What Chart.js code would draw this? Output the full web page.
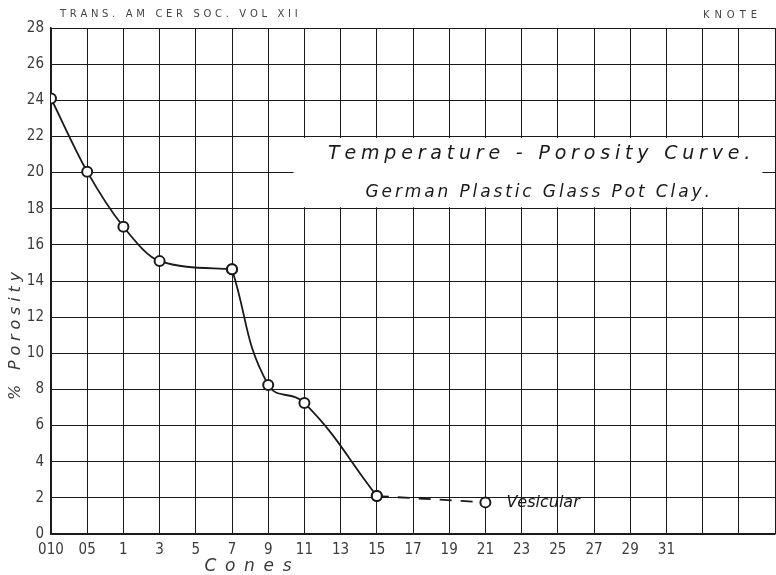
<!DOCTYPE html>
<html>
<head>
<meta charset="utf-8">
<script src="https://cdn.jsdelivr.net/npm/chart.js@4/dist/chart.umd.min.js"></script>
<style>
html,body{margin:0;padding:0;background:#fff;}
#wrap{width:776px;height:575px;position:relative;}
</style>
</head>
<body>
<div id="wrap"><canvas id="c"></canvas></div>
<script>
// Cone tick labels (index positions on the x axis); the last grid columns are unlabeled
const coneLabels = ['010','05','1','3','5','7','9','11','13','15','17','19','21','23','25','27','29','31','','',''];
// Fired curve, part 1 (steady decline to cone 7)
const cones1 = ['010','05','1','3','7'];
const porosity1 = [24.1, 20.05, 17.0, 15.1, 14.65];
// Fired curve, part 2 (sharp drop after cone 7)
const cones2 = ['7','9','11','15'];
const porosity2 = [14.65, 8.25, 7.25, 2.1];
// Dashed extension to vesicular state
const cones3 = ['15','21'];
const porosity3 = [2.1, 1.75];
// Y tick values
const yTicks = [0,2,4,6,8,10,12,14,16,18,20,22,24,26,28];

const toPts = (cs, vs) => cs.map((c,i)=>({x: coneLabels.indexOf(c), y: vs[i]}));

const INK = '#1a1a1a';
const TXT = '#3a3a3a';

function drawSpaced(ctx, text, cx, cy, font, target, color, align){
  ctx.save();
  ctx.font = font;
  ctx.fillStyle = color || INK;
  ctx.letterSpacing = '0px';
  const w = ctx.measureText(text).width;
  const n = text.length;
  const sp = n>1 ? Math.max(0,(target - w)/(n-1)) : 0;
  ctx.textBaseline = 'middle';
  ctx.textAlign = 'left';
  let x = align==='left' ? cx : cx - target/2;
  for (const ch of text){
    ctx.fillText(ch, x, cy);
    x += ctx.measureText(ch).width + sp;
  }
  ctx.restore();
}

const overlay = {
  id:'overlay',
  afterLayout(chart){
    // stretch plot to the right edge of the sheet
    const ca = chart.chartArea;
    ca.right = 775; ca.width = ca.right - ca.left;
    const x = chart.scales.x;
    x.right = 775; x.width = x.right - x.left;
    x.configure();
  },
  beforeDatasetsDraw(chart){
    const {ctx, scales:{x,y}} = chart;
    ctx.save();
    ctx.fillStyle = '#fff';
    const top = y.getPixelForValue(22)+1.5, bot = y.getPixelForValue(18)-1.5;
    const l = x.getPixelForValue(6.7), r = x.getPixelForValue(19.65);
    ctx.fillRect(l, top, r-l, bot-top);
    ctx.restore();
  },
  afterDraw(chart){
    const {ctx, scales:{x,y}} = chart;
    drawSpaced(ctx, 'TRANS. AM CER SOC. VOL XII', 60, 14, '10px "DejaVu Sans"', 237, '#444', 'left');
    drawSpaced(ctx, 'KNOTE', 703, 15, '10px "DejaVu Sans"', 54, '#444', 'left');
    drawSpaced(ctx, 'Temperature - Porosity Curve.', 538, 154, 'italic 19px "DejaVu Sans"', 420, INK);
    drawSpaced(ctx, 'German Plastic Glass Pot Clay.', 537, 193, 'italic 17px "DejaVu Sans"', 343, INK);
    drawSpaced(ctx, 'Cones', 248, 567, 'italic 17px "DejaVu Sans"', 87, TXT);
    const vx = x.getPixelForValue(coneLabels.indexOf('21')) + 21;
    const vy = y.getPixelForValue(porosity3[1]);
    drawSpaced(ctx, 'Vesicular', vx, vy, 'italic 16px "DejaVu Sans"', 72, INK, 'left');
    ctx.save();
    ctx.translate(16, 336);
    ctx.rotate(-Math.PI/2);
    drawSpaced(ctx, '% Porosity', 0, 0, 'italic 16px "DejaVu Sans"', 128, TXT);
    ctx.restore();
  }
};

const lineStyle = {
  borderColor: INK, borderWidth: 1.8,
  pointRadius: 5, pointBorderWidth: 2, pointBackgroundColor: '#fff', pointBorderColor: INK,
  fill: false
};

new Chart(document.getElementById('c'), {
  type: 'line',
  data: {
    datasets: [
      Object.assign({label:'part1', data: toPts(cones1, porosity1)}, lineStyle, {cubicInterpolationMode: 'monotone'}),
      Object.assign({label:'part2', data: toPts(cones2, porosity2)}, lineStyle, {tension: 0.45}),
      Object.assign({label:'vesicular', data: toPts(cones3, porosity3)}, lineStyle, {borderDash:[12,9], tension:0})
    ]
  },
  options: {
    responsive: true, maintainAspectRatio: false, animation: false,
    layout: {padding: {top: 28, right: 1, left: 0, bottom: 0}},
    plugins: {legend: {display:false}, tooltip: {enabled:false}},
    scales: {
      x: {
        type: 'linear', min: 0, max: 20,
        afterFit: s => { s.height = 41; },
        grid: {color: INK, lineWidth: 1, drawTicks: false},
        border: {color: INK, width: 1.5},
        ticks: {
          stepSize: 1, autoSkip: false, maxRotation: 0, padding: 7,
          color: TXT, font: {family: '"Liberation Sans Narrow","DejaVu Sans Condensed",sans-serif', size: 15},
          callback: v => coneLabels[v] ?? ''
        }
      },
      y: {
        min: 0, max: 28,
        afterFit: s => { s.width = 51; },
        afterBuildTicks: s => { s.ticks = yTicks.map(v=>({value:v})); },
        grid: {color: INK, lineWidth: 1, drawTicks: false},
        border: {color: INK, width: 1.5},
        ticks: {
          padding: 7, color: TXT,
          font: {family: '"Liberation Sans Narrow","DejaVu Sans Condensed",sans-serif', size: 15}
        }
      }
    }
  },
  plugins: [overlay]
});
</script>
</body>
</html>
